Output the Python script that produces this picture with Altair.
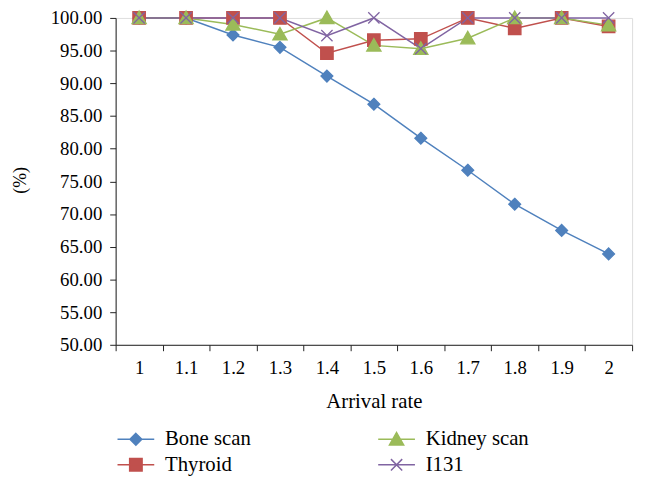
import altair as alt
import pandas as pd

rates = ["1", "1.1", "1.2", "1.3", "1.4", "1.5", "1.6", "1.7", "1.8", "1.9", "2"]
bone = [100, 100, 97.4, 95.5, 91.1, 86.8, 81.6, 76.7, 71.5, 67.5, 63.9]
thyroid = [100, 100, 100, 100, 94.6, 96.6, 96.8, 100, 98.4, 100, 98.7]
kidney = [100, 100, 99.0, 97.5, 100, 95.8, 95.3, 96.9, 100, 100, 98.9]
i131 = [100, 100, 100, 100, 97.3, 100, 95.3, 100, 100, 100, 100]

series_names = ["Bone scan", "Thyroid", "Kidney scan", "I131"]
series_values = [bone, thyroid, kidney, i131]
colors = ["#4F81BD", "#C0504D", "#9BBB59", "#8064A2"]

marker_paths = [
    "M0,-1L1,0L0,1L-1,0Z",
    "M-1.05,-1.05H1.05V1.05H-1.05Z",
    "M0,-1.15L1.2,0.95L-1.2,0.95Z",
    "M-0.95,-0.95L0.95,0.95M-0.95,0.95L0.95,-0.95",
]
legend_paths = ["M-3.1,0H3.1" + p for p in marker_paths]

rows = []
for name, vals in zip(series_names, series_values):
    for r, v in zip(rates, vals):
        rows.append({"rate": r, "series": name, "value": v})
df = pd.DataFrame(rows)

FONT = "Liberation Serif"

x_enc = alt.X(
    "rate:N",
    sort=rates,
    bandPosition=0.5,
    scale=alt.Scale(type="band", paddingInner=0, paddingOuter=0),
    title="Arrival rate",
    axis=alt.Axis(
        tickBand="extent", labelAngle=0, tickSize=6, labelPadding=8,
        labelFont=FONT, labelFontSize=19, labelColor="#000",
        titleFont=FONT, titleFontSize=21, titleFontWeight="normal", titleColor="#000",
        titleBaseline="middle", titleY=58,
        domainColor="#222", tickColor="#222", grid=False,
    ),
)
y_enc = alt.Y(
    "value:Q",
    scale=alt.Scale(domain=[50, 100], nice=False, zero=False),
    title="(%)",
    axis=alt.Axis(
        values=[50, 55, 60, 65, 70, 75, 80, 85, 90, 95, 100], format=".2f",
        tickSize=6, labelPadding=8,
        labelFont=FONT, labelFontSize=19, labelColor="#000",
        titleFont=FONT, titleFontSize=18, titleFontWeight="normal", titleColor="#000",
        titleX=-96, titleY=164, titleBaseline="middle", titleAngle=270,
        domainColor="#222", tickColor="#222", grid=False,
    ),
)

base = alt.Chart(df)

lines = base.mark_line(strokeWidth=1.5).encode(
    x=x_enc, y=y_enc,
    color=alt.Color("series:N", scale=alt.Scale(domain=series_names, range=colors), legend=None),
    detail="series:N",
)

points = base.mark_point(filled=True, size=144, strokeWidth=1.3, opacity=1).encode(
    x=x_enc, y=y_enc,
    color=alt.Color("series:N", scale=alt.Scale(domain=series_names, range=colors), legend=None),
    stroke=alt.Stroke("series:N", scale=alt.Scale(domain=series_names, range=colors), legend=None),
    shape=alt.Shape("series:N", scale=alt.Scale(domain=series_names, range=marker_paths), legend=None),
)

legend_kw = dict(
    orient="none", legendX=10, legendY=416, columns=2, columnPadding=125,
    rowPadding=4, labelOffset=19, labelFont=FONT, labelFontSize=21, labelColor="#000",
    symbolSize=144, symbolStrokeWidth=1.5, padding=0, title=None, labelLimit=300,
)

legend_layer = base.transform_filter("datum.value < 0").mark_point(
    filled=True, size=144, strokeWidth=1.5, opacity=1
).encode(
    x=x_enc, y=y_enc,
    color=alt.Color("series:N", scale=alt.Scale(domain=series_names, range=colors), legend=alt.Legend(**legend_kw)),
    stroke=alt.Stroke("series:N", scale=alt.Scale(domain=series_names, range=colors), legend=alt.Legend(**legend_kw)),
    shape=alt.Shape("series:N", scale=alt.Scale(domain=series_names, range=legend_paths), legend=alt.Legend(**legend_kw)),
)

chart = (
    alt.layer(lines, points, legend_layer)
    .resolve_scale(color="independent", stroke="independent", shape="independent")
    .properties(
        width=523, height=331,
        autosize=alt.AutoSizeParams(type="none"),
        padding={"left": 109, "top": 7, "right": 7, "bottom": 145},
    )
    .configure_view(stroke=None)
    .configure(background="white")
)

chart.save("out.html", embed_options={"renderer": "svg", "actions": False})
